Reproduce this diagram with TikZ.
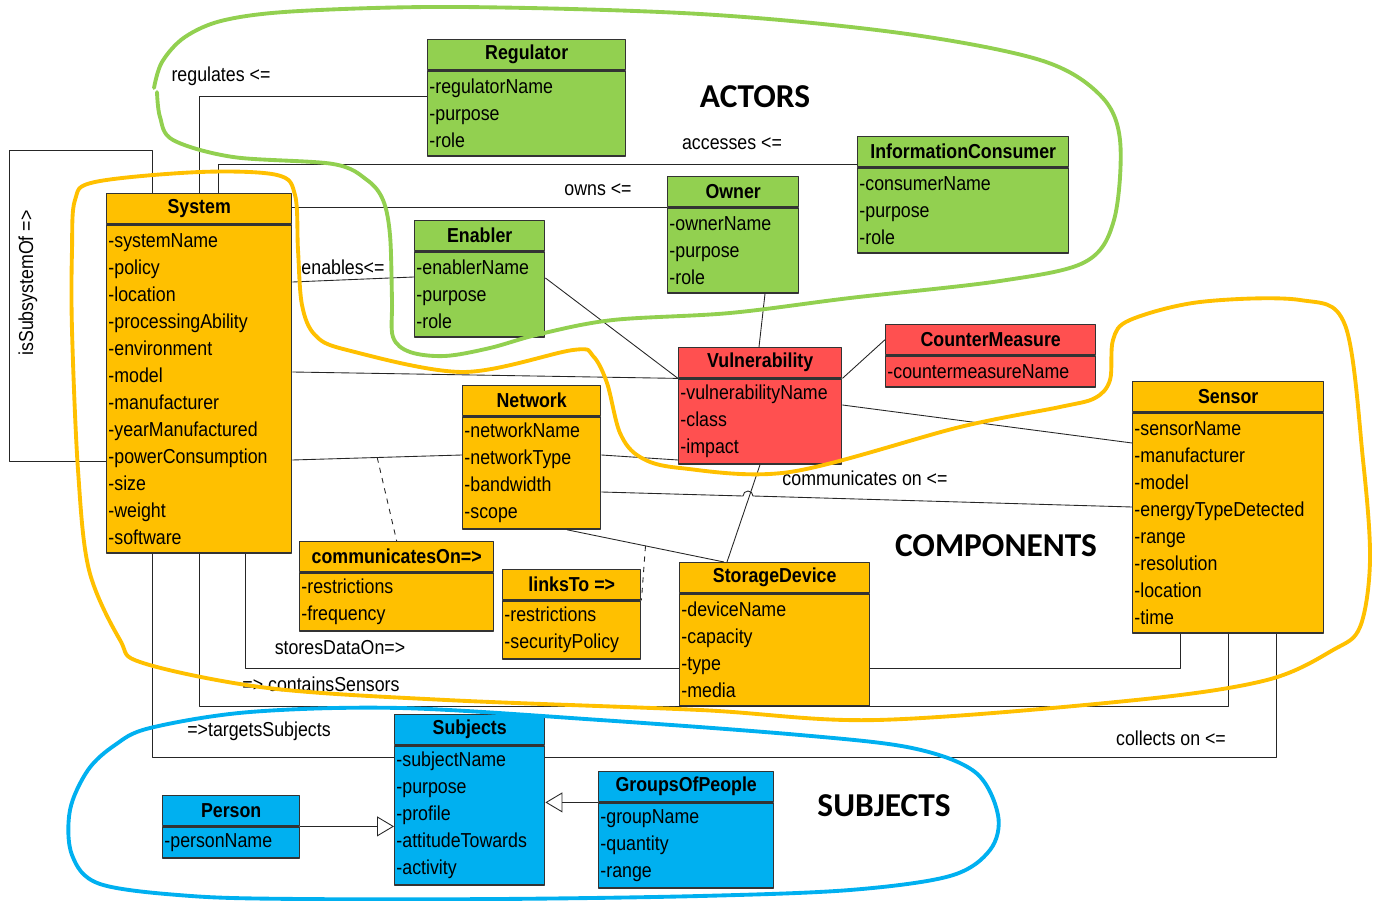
\documentclass[tikz,border=0pt]{standalone}
\usepackage{fontspec}
\setmainfont[FakeStretch=0.88]{Liberation Sans}
\newfontfamily\bigfont{Carlito}
\usetikzlibrary{arrows.meta}
\definecolor{actgreen}{HTML}{92D050}
\definecolor{compgold}{HTML}{FFC000}
\definecolor{vulnred}{HTML}{FF5050}
\definecolor{subjblue}{HTML}{00B0F0}

\begin{document}
\begin{tikzpicture}[x=0.02cm, y=-0.02cm, line join=round,
	hdr/.style={draw=black!80, line width=0.8pt, minimum height=0.6cm, inner sep=0pt, font=\fontsize{11.5}{14}\selectfont\bfseries},
	bdy/.style={draw=black!80, line width=0.8pt, inner xsep=1pt, inner ysep=0pt, align=left, font=\fontsize{11.5}{15.4}\selectfont},
	lnk/.style={black!85, line width=0.5pt},
	lbl/.style={inner sep=1pt, font=\fontsize{11.5}{14}\selectfont},
	grp/.style={inner sep=0pt, font=\bigfont\bfseries\fontsize{19}{22}\selectfont},
	lasso/.style={line width=2.2pt, line cap=round},
	gen/.style={lnk, -{Triangle[open, length=0.34cm, width=0.4cm]}}]
	
	\useasboundingbox (0,0) rectangle (1375,901);
	
	% name, x, y, width, colour, title, rows, attributes
	\def\umlclass#1#2#3#4#5#6#7#8{%
		\pgfmathsetlengthmacro\boxw{#4*0.02cm}%
		\pgfmathsetlengthmacro\textw{#4*0.02cm-2pt}%
		\pgfmathsetlengthmacro\bodyh{#7*0.54cm+0.08cm}%
		\node[hdr, fill=#5, minimum width=\boxw, anchor=north west] (#1) at (#2,#3) {#6};
		\node[bdy, fill=#5, minimum width=\boxw, text width=\textw, minimum height=\bodyh, anchor=north] (#1-b) at (#1.south) {#8};
	}
	
	\umlclass{reg}{427}{39}{198}{actgreen}{Regulator}{3}{-regulatorName\\-purpose\\-role}
	\umlclass{ic}{857}{136}{211}{actgreen}{InformationConsumer}{3}{-consumerName\\-purpose\\-role}
	\umlclass{own}{667}{176}{131}{actgreen}{Owner}{3}{-ownerName\\-purpose\\-role}
	\umlclass{en}{414}{220}{130}{actgreen}{Enabler}{3}{-enablerName\\-purpose\\-role}
	\umlclass{sys}{106}{193}{185}{compgold}{System}{12}{-systemName\\-policy\\-location\\-processingAbility\\-environment\\-model\\-manufacturer\\-yearManufactured\\-powerConsumption\\-size\\-weight\\-software}
	\umlclass{vul}{678}{347}{163}{vulnred}{Vulnerability}{3}{-vulnerabilityName\\-class\\-impact}
	\umlclass{cm}{885}{324}{210}{vulnred}{CounterMeasure}{1}{-countermeasureName}
	\umlclass{net}{462}{385}{138}{compgold}{Network}{4}{-networkName\\-networkType\\-bandwidth\\-scope}
	\umlclass{sen}{1132}{381}{191}{compgold}{Sensor}{8}{-sensorName\\-manufacturer\\-model\\-energyTypeDetected\\-range\\-resolution\\-location\\-time}
	\umlclass{co}{299}{541}{194}{compgold}{communicatesOn=>}{2}{-restrictions\\-frequency}
	\umlclass{lt}{502}{569}{138}{compgold}{linksTo =>}{2}{-restrictions\\-securityPolicy}
	\umlclass{sd}{679}{562}{190}{compgold}{StorageDevice}{4}{-deviceName\\-capacity\\-type\\-media}
	\umlclass{sub}{394}{714}{150}{subjblue}{Subjects}{5}{-subjectName\\-purpose\\-profile\\-attitudeTowards\\-activity}
	\umlclass{per}{162}{795}{137}{subjblue}{Person}{1}{-personName}
	\umlclass{gop}{598}{771}{175}{subjblue}{GroupsOfPeople}{3}{-groupName\\-quantity\\-range}
	
	% associations
	\draw[lnk] (sys.north -| 199,0) |- (reg-b.west |- 0,96);
	\draw[lnk] (sys.north -| 218,0) |- (ic.west |- 0,164);
	\draw[lnk] (sys.east |- own.south west) -- (own.south west);
	\draw[lnk] (sys-b.east |- 0,282) -- (en-b.west |- 0,277);
	\draw[lnk] (en-b.east |- 0,278) -- (vul.south west);
	\draw[lnk] (sys-b.east |- 0,372) -- (vul.south west);
	\draw[lnk] (own-b.south -| 765,0) -- (vul.north -| 759,0);
	\draw[lnk] (vul.south east) -- (cm.west);
	\draw[lnk] (vul-b.east |- 0,405) -- (sen-b.west |- 0,443);
	\draw[lnk] (sys-b.east |- 0,460) -- coordinate[pos=0.5] (co-at) (net-b.west |- 0,455);
	\draw[lnk] (net-b.east |- 0,455) -- (vul-b.west |- 0,460);
	\draw[lnk] (net-b.east |- 0,492) -- (743,496) arc[start angle=180, end angle=0, radius=0.1cm] -- (sen-b.west |- 0,507);
	\draw[lnk] (vul-b.south -| 760,0) -- (sd.north -| 727,0);
	\draw[lnk] (net-b.south -| 567,0) -- coordinate[pos=0.5] (lt-at) (sd.north -| 724,0);
	\draw[lnk, dashed] (co-at) -- (co.north);
	\draw[lnk, dashed] (lt-at) -- (lt.south east);
	\draw[lnk] (sys-b.south -| 245,0) |- (sd-b.west |- 0,668);
	\draw[lnk] (sen-b.south -| 1180,0) |- (sd-b.east |- 0,668);
	\draw[lnk] (sys-b.south -| 199,0) |- (sd-b.south) -| (sen-b.south -| 1228,0);
	\draw[lnk] (sys-b.south -| 152,0) |- (sub-b.west |- 0,757);
	\draw[lnk] (sen-b.south -| 1276,0) |- (sub-b.east |- 0,757);
	\draw[lnk] (sys.north -| 152,0) |- (9,150) |- (sys-b.west |- 0,461);
	\draw[gen] (per.south east) -- (sub-b.west |- per.south east);
	\draw[gen] (gop.south west) -- (sub-b.east |- gop.south west);
	
	\node[lbl] (l-reg) at (221,76) {regulates <=};
	\node[lbl] (l-acc) at (732,144) {accesses <=};
	\node[lbl] (l-own) at (598,190) {owns <=};
	\node[lbl] (l-en) at (343,267) {enables<=};
	\node[lbl] (l-com) at (865,478) {communicates on <=};
	\node[lbl] (l-sto) at (340,648) {storesDataOn=>};
	\node[lbl] (l-con) at (321,684) {=> containsSensors};
	\node[lbl] (l-tar) at (259,731) {=>targetsSubjects};
	\node[lbl] (l-col) at (1171,738) {collects on <=};
	\node[lbl, rotate=90] (l-sub) at (28,283) {isSubsystemOf =>};
	
	\node[grp] (actors) at (755,97) {ACTORS};
	\node[grp] (components) at (996,546) {COMPONENTS};
	\node[grp] (subjects) at (884,806) {SUBJECTS};
	
	% hand drawn groups
	\draw[lasso, actgreen] plot[smooth, tension=0.55] coordinates {(154,88) (162,62) (185,37) (225,20) (300,11) (460,7) (700,14) (900,33) (1040,60) (1100,95) (1120,140) (1114,220) (1085,262) (1000,281) (850,298) (730,313) (613,320) (540,334) (490,348) (445,356) (410,352) (393,337) (392,300) (390,235) (383,200) (367,180) (333,164) (233,157) (173,140) (160,117) (157,92)};
	\draw[lasso, compgold] plot[smooth cycle, tension=0.55] coordinates {(75,200) (95,182) (200,172) (277,175) (295,195) (298,250) (302,305) (315,335) (347,350) (463,372) (573,350) (593,356) (607,383) (620,433) (640,457) (680,468) (790,472) (960,427) (1060,407) (1095,398) (1110,380) (1113,340) (1130,320) (1200,302) (1300,300) (1345,325) (1363,460) (1370,560) (1360,627) (1333,650) (1267,680) (1136,700) (877,720) (700,710) (446,700) (268,688) (143,663) (120,640) (89,570) (78,470) (72,330) (72,250)};
	\draw[lasso, subjblue] plot[smooth cycle, tension=0.55] coordinates {(150,728) (250,712) (400,708) (600,720) (800,735) (912,748) (975,772) (998,815) (990,850) (950,876) (850,890) (700,896) (500,899) (300,899) (191,896) (100,884) (72,855) (70,810) (88,770) (115,745)};
	
\end{tikzpicture}
\end{document}
